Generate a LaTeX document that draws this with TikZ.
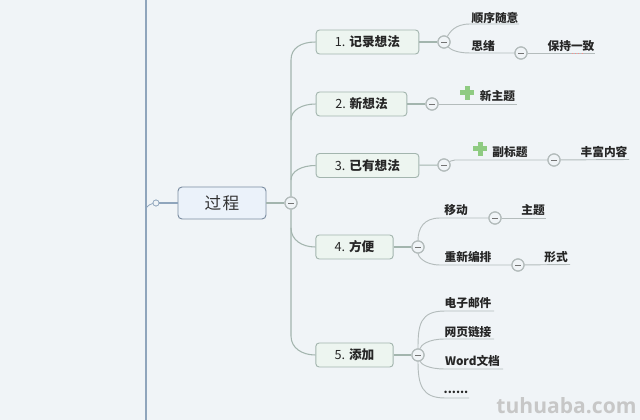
\documentclass[tikz,border=0pt]{standalone}
\usepackage{fontspec}
\setmainfont{Noto Sans CJK SC}
\newfontfamily\wmfont{Open Sans}
\definecolor{bgc}{HTML}{F0F4F7}
\definecolor{spine}{HTML}{8FA5BC}
\definecolor{lnk}{HTML}{A3B5AE}
\definecolor{sublnk}{HTML}{B4BCBC}
\definecolor{boxfill}{HTML}{EDF5F0}
\definecolor{rootfill}{HTML}{EBF2FA}
\definecolor{plusg}{HTML}{8FCB82}
\tikzset{
 x=0.75pt,y=-0.75pt,
 rootbox/.style={draw=spine!85!black,line width=0.7pt,fill=rootfill,rounded corners=3pt,minimum width=66pt,minimum height=24pt,inner sep=0pt,font=\fontsize{12.5}{13}\selectfont,text=black!80},
 topicbox/.style={draw=lnk,line width=0.7pt,fill=boxfill,rounded corners=2.5pt,minimum height=18pt,inner sep=0pt,font=\bfseries\fontsize{9.5}{10}\selectfont,text=black!85},
 lbl/.style={inner sep=0pt,font=\bfseries\fontsize{8.8}{10}\selectfont,text=black!85},
 knob/.style={circle,draw=sublnk,line width=0.9pt,fill=bgc,minimum size=9pt,inner sep=0pt,path picture={\draw[black!55,line width=0.6pt]([xshift=-2pt]path picture bounding box.center)--([xshift=2pt]path picture bounding box.center);}},
 tiny/.style={circle,draw=spine,line width=0.5pt,fill=bgc,minimum size=4.5pt,inner sep=0pt},
 trunk/.style={draw=lnk,line width=0.8pt},
 twig/.style={draw=sublnk,line width=0.7pt},
}
\begin{document}
\begin{tikzpicture}
\path[use as bounding box,fill=bgc] (0,0) rectangle (640,420);
\coordinate (sptop) at (146,0); \coordinate (spbot) at (146,420); \coordinate (spj) at (146,208);
\draw[draw=spine,line width=1pt] (sptop)--(spbot);
\node[rootbox] (root) at (222,203) {过\hspace{0.08em}程};
\node[tiny] (rk) at (156,203) {};
\node[knob] (k0) at (291,203) {};
\node[topicbox,minimum width=77pt] (t1) at (367.5,42) {\raisebox{-0.4pt}{{\mdseries 1.} 记录想法}};
\node[topicbox,minimum width=68pt] (t2) at (361.5,104) {\raisebox{-0.4pt}{{\mdseries 2.} 新想法}};
\node[topicbox,minimum width=77pt] (t3) at (367.5,165.5) {\raisebox{-0.4pt}{{\mdseries 3.} 已有想法}};
\node[topicbox,minimum width=58pt] (t4) at (354.5,247) {\raisebox{-0.4pt}{{\mdseries 4.} 方便}};
\node[topicbox,minimum width=58pt] (t5) at (354.5,355) {\raisebox{-0.4pt}{{\mdseries 5.} 添加}};
\node[knob] (k1) at (444,42) {};
\node[knob] (k2) at (432,104) {};
\node[knob] (k3) at (444,165) {};
\node[knob] (k4) at (418,247) {};
\node[knob] (k5) at (418,355) {};
\node[knob] (k11) at (521,53) {};
\node[knob] (k31) at (554,160) {};
\node[knob] (k41) at (495,218) {};
\node[knob] (k42) at (518,265) {};
\node[lbl] (a1) at (495,17.5) {顺序随意};
\node[lbl] (a2) at (483,46.5) {思绪};
\node[lbl] (a3) at (571,46.5) {保持一致};
\node[lbl] (b1) at (497.5,96) {新主题};
\node[lbl] (c1) at (510,152.5) {副标题};
\node[lbl] (c2) at (604,152) {丰富内容};
\node[lbl] (d1) at (456,210.5) {移动};
\node[lbl] (d2) at (533,210.5) {主题};
\node[lbl] (d3) at (468,257) {重新编排};
\node[lbl] (d4) at (556,257) {形式};
\node[lbl] (e1) at (468,303) {电子邮件};
\node[lbl] (e2) at (468,332) {网页链接};
\node[lbl] (e3) at (472.5,361) {Word文档};
\node[lbl] (e4) at (456,392) {......};
\coordinate (a1e) at (519,24); \coordinate (a2m) at (470,53); \coordinate (a3e) at (595,53);
\coordinate (b1e) at (517,104); \coordinate (c2e) at (629,159.5); \coordinate (c1m) at (455,160);
\coordinate (d2e) at (546,218); \coordinate (d4e) at (570,264.5);
\coordinate (e1e) at (494,311); \coordinate (e2e) at (494,339); \coordinate (e3e) at (503,369); \coordinate (e4e) at (469,398);
\draw[draw=spine,line width=0.6pt] (spj) .. controls (149,205) and (150,204) .. (rk);
\draw[draw=spine,line width=0.8pt] (rk)--(root);
\draw[trunk] (root)--(k0);
\draw[trunk] (k0.north) -- (291,60) .. controls (291,48) and (301,42) .. (t1.west);
\draw[trunk] (291,120) .. controls (291,110) and (302,104) .. (t2.west);
\draw[trunk] (291,180) .. controls (291,171) and (302,165.5) .. (t3.west);
\draw[trunk] (k0.south) -- (291,228) .. controls (291,240) and (302,247) .. (t4.west);
\draw[trunk] (291,228) -- (291,336) .. controls (291,348) and (302,355) .. (t5.west);
\draw[trunk] (t1)--(k1); \draw[trunk] (t2)--(k2); \draw[trunk] (t3)--(k3); \draw[trunk] (t4)--(k4); \draw[trunk] (t5)--(k5);
\draw[twig] (k1) .. controls (450,32) and (455,24) .. (470,24) -- (a1e);
\draw[twig] (k1) .. controls (450,49) and (456,53) .. (a2m) -- (k11);
\draw[twig] (k11)--(a3e);
\draw[twig] (k2)--(b1e);
\draw[twig] (k3) .. controls (449,162) and (452,160) .. (c1m) -- (k31);
\draw[twig] (k31)--(c2e);
\draw[twig] (k4) .. controls (418,228) and (424,218) .. (440,218) -- (k41);
\draw[twig] (k41)--(d2e);
\draw[twig] (k4) .. controls (418,256) and (424,265) .. (440,265) -- (k42);
\draw[twig] (k42)--(d4e);
\draw[twig] (k5) .. controls (418,325) and (420,311) .. (445,311) -- (e1e);
\draw[twig] (k5) .. controls (421,345) and (428,339) .. (445,339) -- (e2e);
\draw[twig] (k5) .. controls (421,364) and (428,369) .. (445,369) -- (e3e);
\draw[twig] (k5) .. controls (418,385) and (422,398) .. (445,398) -- (e4e);
\foreach \k in {k0,k1,k2,k3,k4,k5,k11,k31,k41,k42}{\node[knob] at (\k) {};}
\node[tiny] at (rk) {};
\foreach \px/\py in {467/93,480/149}{
 \fill[plusg] (\px-2.5,\py-7) rectangle (\px+2.5,\py+7);
 \fill[plusg] (\px-7,\py-2.5) rectangle (\px+7,\py+2.5);
}
\draw[red!45,line width=0.4pt,dotted] (572,53.5)--(582,53.5);
\node[inner sep=0pt,font=\wmfont\bfseries\fontsize{15.8}{18}\selectfont,text=black!22] (wm) at (566.5,405.5) {tuhuaba.com};
\end{tikzpicture}
\end{document}
